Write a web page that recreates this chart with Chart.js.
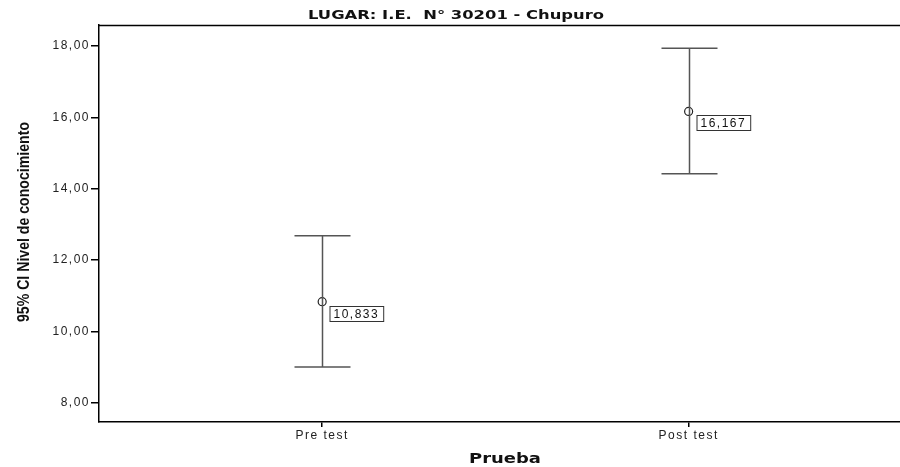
<!DOCTYPE html>
<html>
<head>
<meta charset="utf-8">
<script src="https://cdn.jsdelivr.net/npm/chart.js@4/dist/chart.umd.min.js"></script>
<style>
  html, body { margin: 0; padding: 0; background: #fff; overflow: hidden; }
  /* el marco del SPSS sigue más allá del borde derecho de la imagen */
  #wrap { width: 906px; height: 467px; }
</style>
</head>
<body>
<div id="wrap"><canvas id="chart"></canvas></div>
<script>
// Datos (IC 95% por prueba)
const categories = ['Pre test', 'Post test'];
const means = [10.833, 16.167];
const lower = [9.0, 14.42];
const upper = [12.68, 17.94];
const meanLabels = ['10,833', '16,167'];
const yTicks = [8, 10, 12, 14, 16, 18];

const TITLE = 'LUGAR: I.E.  N° 30201 - Chupuro';
const X_TITLE = 'Prueba';
const Y_TITLE = '95% CI Nivel de conocimiento';

const FONT = '"Liberation Sans", Arial, sans-serif';
const WIDE = '"DejaVu Sans", Verdana, sans-serif';
const comma = v => v.toFixed(2).replace('.', ',');

// Texto estirado/comprimido a lo ancho para que ocupe un ancho dado
function fitText(ctx, text, cx, cy, width, angle) {
  ctx.save();
  ctx.letterSpacing = '0px';
  const w = ctx.measureText(text).width;
  ctx.translate(cx, cy);
  ctx.rotate(angle || 0);
  ctx.scale(width / w, 1);
  ctx.textAlign = 'center';
  ctx.textBaseline = 'alphabetic';
  ctx.fillText(text, 0, 0);
  ctx.restore();
}

// El canvas se reinicia al redimensionar; se vuelve a poner el espaciado de los ticks
const tickSpacing = {
  id: 'tickSpacing',
  beforeLayout(chart) { chart.ctx.letterSpacing = '1.5px'; },
  beforeDraw(chart) { chart.ctx.letterSpacing = '1.5px'; }
};

// Barras de error, cajas con la media y títulos
const errorBars = {
  id: 'errorBars',
  afterDatasetsDraw(chart) {
    const { ctx, scales: { x, y }, chartArea } = chart;
    ctx.save();
    ctx.strokeStyle = '#000';
    ctx.lineWidth = 1.5;
    ctx.beginPath();
    ctx.moveTo(chartArea.left, chartArea.top + 0.5);
    ctx.lineTo(chartArea.right, chartArea.top + 0.5);
    ctx.stroke();

    categories.forEach((c, i) => {
      const px = Math.round(x.getPixelForValue(i)) + 0.5;
      const yTop = y.getPixelForValue(upper[i]);
      const yBot = y.getPixelForValue(lower[i]);
      const yMean = y.getPixelForValue(means[i]);
      ctx.strokeStyle = '#555';
      ctx.lineWidth = 1.5;
      ctx.beginPath();
      ctx.moveTo(px, yTop); ctx.lineTo(px, yBot);
      ctx.moveTo(px - 28, yTop); ctx.lineTo(px + 28, yTop);
      ctx.moveTo(px - 28, yBot); ctx.lineTo(px + 28, yBot);
      ctx.stroke();

      ctx.font = '12px ' + FONT;
      ctx.letterSpacing = '1.5px';
      const w = ctx.measureText(meanLabels[i]).width + 8;
      const bx = px + 7, by = Math.round(yMean) + 4;
      ctx.fillStyle = '#fff';
      ctx.fillRect(bx, by, w, 15);
      ctx.strokeStyle = '#333';
      ctx.lineWidth = 1;
      ctx.strokeRect(bx + 0.5, by + 0.5, w, 15);
      ctx.fillStyle = '#111';
      ctx.textAlign = 'left';
      ctx.textBaseline = 'middle';
      ctx.fillText(meanLabels[i], bx + 4, by + 8.5);
    });

    ctx.fillStyle = '#111';
    ctx.font = 'bold 13px ' + WIDE;
    fitText(ctx, TITLE, 456, 19, 296);

    ctx.font = 'bold 14px ' + WIDE;
    fitText(ctx, X_TITLE, 505, 463, 72);

    ctx.font = 'bold 17px ' + FONT;
    fitText(ctx, Y_TITLE, 29, 222, 200, -Math.PI / 2);
    ctx.restore();
  }
};

new Chart(document.getElementById('chart'), {
  type: 'scatter',
  data: {
    datasets: [{
      data: means.map((m, i) => ({ x: i, y: m })),
      pointStyle: 'circle',
      pointRadius: 4,
      pointBackgroundColor: 'rgba(0,0,0,0)',
      pointBorderColor: '#222',
      pointBorderWidth: 1.2
    }]
  },
  options: {
    responsive: true,
    maintainAspectRatio: false,
    animation: false,
    layout: { padding: { top: 25, right: 0, left: 0, bottom: 0 } },
    plugins: { legend: { display: false }, tooltip: { enabled: false } },
    scales: {
      x: {
        type: 'linear',
        min: -0.609,
        max: 1.579,
        afterBuildTicks: s => { s.ticks = [{ value: 0 }, { value: 1 }]; },
        afterFit: s => { s.height = 45; },
        ticks: {
          callback: v => categories[v],
          color: '#222',
          font: { family: FONT, size: 12 },
          padding: 1,
          maxRotation: 0
        },
        grid: { display: true, drawOnChartArea: false, tickLength: 5, color: '#000', lineWidth: 1.5 },
        border: { display: true, color: '#000', width: 1.5 }
      },
      y: {
        min: 7.46,
        max: 18.59,
        afterBuildTicks: s => { s.ticks = yTicks.map(v => ({ value: v })); },
        afterFit: s => { s.width = 99; },
        ticks: {
          callback: v => comma(v),
          color: '#222',
          font: { family: FONT, size: 12 },
          padding: 1
        },
        grid: { display: true, drawOnChartArea: false, tickLength: 8, color: '#000', lineWidth: 1.5 },
        border: { display: true, color: '#000', width: 1.5 }
      }
    }
  },
  plugins: [tickSpacing, errorBars]
});
</script>
</body>
</html>
